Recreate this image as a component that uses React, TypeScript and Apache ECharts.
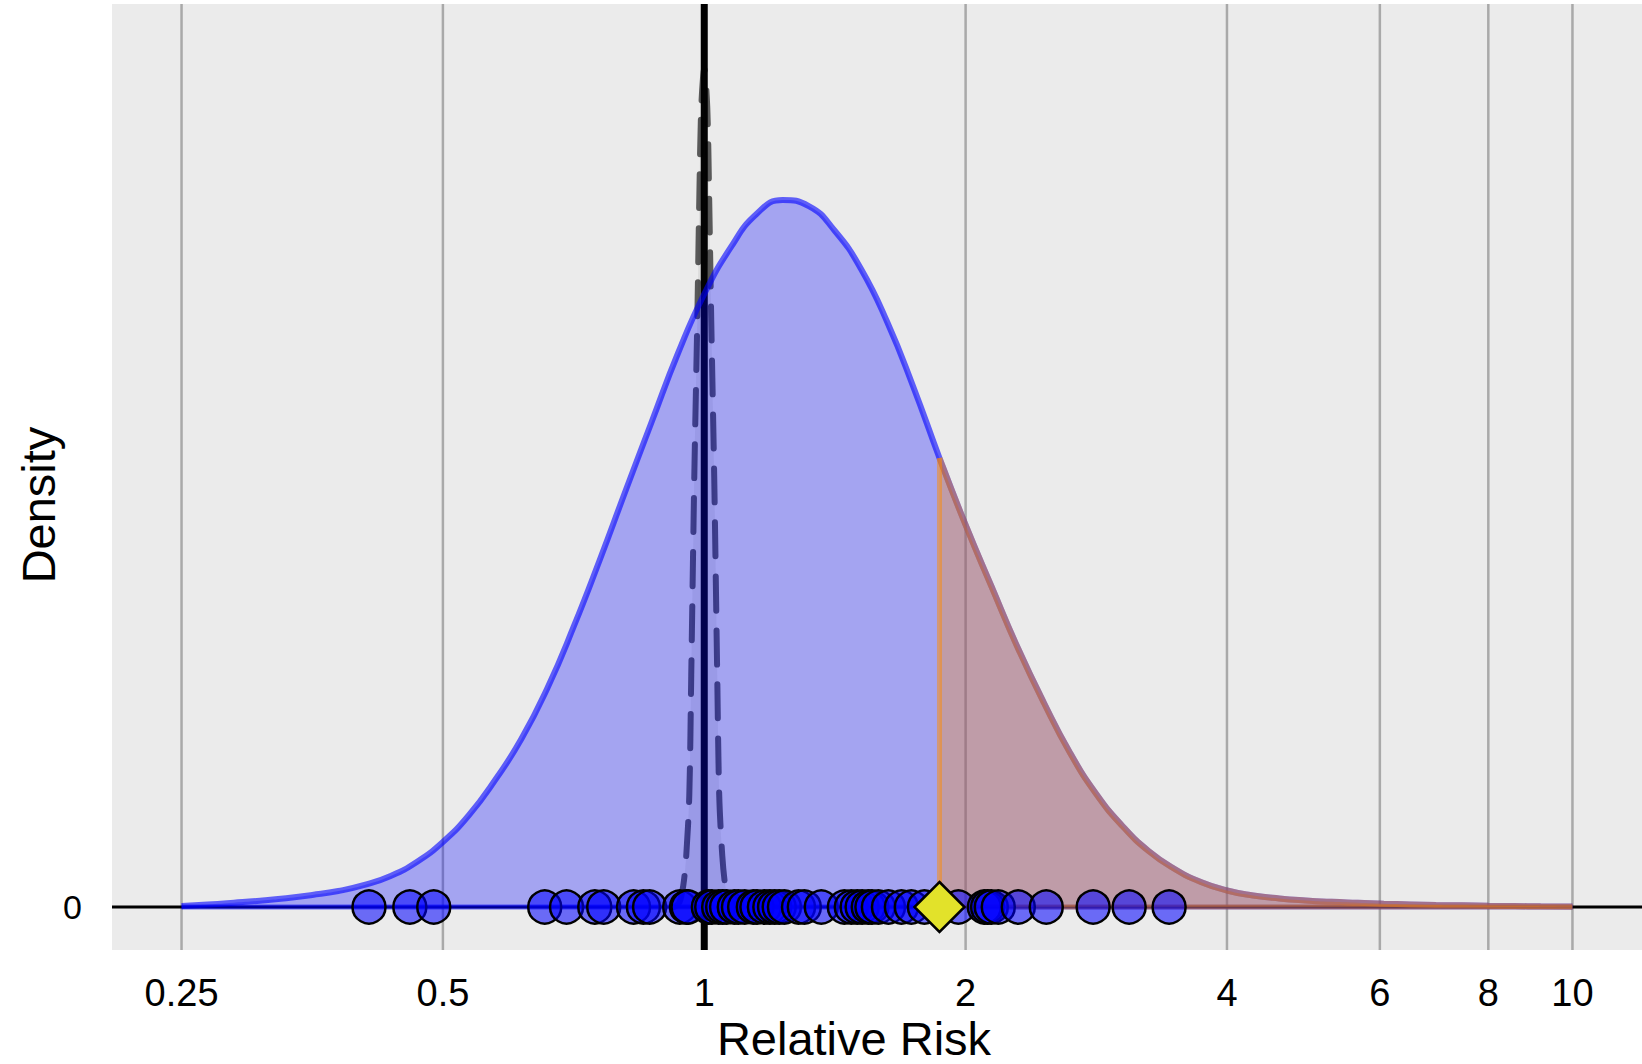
import React, { useEffect, useRef } from "react";
import * as echarts from "echarts";

// ---- data ----
const tickRR = [0.25, 0.5, 1, 2, 4, 6, 8, 10];

// observed-effect density: relative risk positions and normalised density heights
const densityRR = [
  0.25, 0.2679, 0.2872, 0.3078, 0.3299, 0.3536, 0.3789, 0.4061, 0.4353, 0.4665,
  0.5, 0.5359, 0.5743, 0.6156, 0.6598, 0.7071, 0.7579, 0.8123, 0.8706, 0.933,
  1.0, 1.0718, 1.1487, 1.2311, 1.3195, 1.4142, 1.5157, 1.6245, 1.7411, 1.8661,
  2.0, 2.1435, 2.2974, 2.4623, 2.639, 2.8284, 3.0314, 3.249, 3.4822, 3.7321,
  4.0, 4.287, 4.595, 4.925, 5.278, 5.657, 6.063, 6.498, 6.964, 7.464,
  8.0, 8.574, 9.19, 10.0,
];
const densityValues = [
  0.0012, 0.0029, 0.005, 0.0073, 0.0102, 0.014, 0.0186, 0.0256, 0.036, 0.0523,
  0.0756, 0.107, 0.1477, 0.1953, 0.2547, 0.3256, 0.4035, 0.4849, 0.5651, 0.6442,
  0.7128, 0.7663, 0.8058, 0.8221, 0.8151, 0.786, 0.7419, 0.6802, 0.6047, 0.5221,
  0.4442, 0.3721, 0.3012, 0.2372, 0.1791, 0.1314, 0.0942, 0.0651, 0.0442, 0.0291,
  0.0192, 0.0134, 0.0099, 0.0076, 0.006, 0.0049, 0.0038, 0.003, 0.0023, 0.0019,
  0.0014, 0.0011, 0.0009, 0.0006,
];

// null distribution (dashed)
const nullRR = [0.9235, 0.9359, 0.9459, 0.9534, 0.9611, 0.9661, 0.9739, 0.9816, 0.9868, 0.9921, 1.0, 1.008, 1.0133, 1.0188, 1.0268, 1.035, 1.0405, 1.0489, 1.0572, 1.0685, 1.0828];
const nullValues = [0, 0.005, 0.025, 0.06, 0.13, 0.27, 0.5, 0.68, 0.82, 0.93, 0.975, 0.93, 0.82, 0.68, 0.5, 0.27, 0.13, 0.06, 0.025, 0.005, 0];

// individual study estimates
const studyRR = [0.411, 0.458, 0.488, 0.655, 0.694, 0.748, 0.766, 0.829, 0.851, 0.865, 0.937, 0.954, 0.958, 1.011, 1.02, 1.039, 1.05, 1.061, 1.083, 1.095, 1.113, 1.139, 1.15, 1.173, 1.19, 1.205, 1.22, 1.237, 1.284, 1.304, 1.364, 1.45, 1.477, 1.5, 1.52, 1.545, 1.56, 1.587, 1.63, 1.687, 1.732, 1.793, 1.962, 2.102, 2.12, 2.141, 2.181, 2.3, 2.477, 2.805, 3.086, 3.431];

const observedRR = 1.8661;
const nullRR0 = 1;

const FONT = "'Liberation Sans', Arial, sans-serif";

export default function App() {
  const ref = useRef<HTMLDivElement>(null);

  useEffect(() => {
    if (!ref.current) return;
    const chart = echarts.init(ref.current, null, { renderer: "svg" });
    const lg = (v: number) => Math.log2(v);
    const lo = lg(tickRR[0]);
    const hi = lg(tickRR[tickRR.length - 1]);
    const pad = 0.05 * (hi - lo);
    const xMin = lo - pad;
    const xMax = hi + pad;
    const yMin = -0.05;
    const yMax = 1.05;

    const densityData = densityRR.map((r, i) => [lg(r), densityValues[i]]);
    const startIdx = densityRR.findIndex((r) => r >= observedRR - 1e-6);
    const redData = densityData.slice(startIdx);
    const nullData = nullRR.map((r, i) => [lg(r), nullValues[i]]);

    const gridSeries = tickRR.map((t) => ({
      type: "line",
      data: [
        [lg(t), yMin],
        [lg(t), yMax],
      ],
      symbol: "none",
      silent: true,
      z: 1,
      lineStyle: { color: "#a9a9a9", width: 2.5 },
    }));

    const option: any = {
      animation: false,
      backgroundColor: "#ffffff",
      grid: {
        left: 112,
        top: 4,
        width: 1530,
        height: 946,
        show: true,
        backgroundColor: "#ebebeb",
        borderWidth: 0,
        containLabel: false,
      },
      xAxis: {
        type: "value",
        min: xMin,
        max: xMax,
        axisLine: { show: false },
        axisTick: { show: false },
        splitLine: { show: false },
        axisLabel: {
          customValues: tickRR.map(lg),
          formatter: (v: number) => String(Number(Math.pow(2, v).toFixed(2))),
          color: "#000",
          fontSize: 38,
          fontFamily: FONT,
          margin: 24,
        },
      },
      yAxis: {
        type: "value",
        min: yMin,
        max: yMax,
        interval: 0.05,
        axisLine: { show: false },
        axisTick: { show: false },
        splitLine: { show: false },
        axisLabel: {
          formatter: (v: number) => (Math.abs(v) < 1e-9 ? "0" : ""),
          color: "#000",
          fontSize: 34,
          fontFamily: FONT,
          margin: 30,
        },
      },
      graphic: [
        {
          type: "text",
          x: 854,
          y: 1038,
          style: {
            text: "Relative Risk",
            fontSize: 47,
            lineHeight: 40,
            fontFamily: FONT,
            fill: "#000",
            textAlign: "center",
            textVerticalAlign: "middle",
          },
        },
        {
          type: "text",
          x: 38,
          y: 505,
          rotation: Math.PI / 2,
          style: {
            text: "Density",
            fontSize: 47,
            fontFamily: FONT,
            fill: "#000",
            textAlign: "center",
            textVerticalAlign: "middle",
          },
        },
      ],
      series: [
        ...gridSeries,
        {
          type: "line",
          data: [
            [xMin, 0],
            [xMax, 0],
          ],
          symbol: "none",
          silent: true,
          z: 2,
          lineStyle: { color: "#000", width: 3 },
        },
        {
          type: "line",
          data: [
            [lg(nullRR0), yMin],
            [lg(nullRR0), yMax],
          ],
          symbol: "none",
          silent: true,
          z: 3,
          lineStyle: { color: "#000", width: 7 },
        },
        {
          type: "line",
          data: nullData,
          smooth: 0.3,
          symbol: "none",
          silent: true,
          z: 4,
          lineStyle: { color: "rgba(0,0,0,0.62)", width: 6, type: [34, 20], cap: "round" },
          areaStyle: { color: "rgba(40,40,40,0.07)", origin: "auto", opacity: 1 },
        },
        {
          type: "line",
          data: densityData,
          smooth: 0.5,
          symbol: "none",
          silent: true,
          z: 5,
          lineStyle: { color: "rgba(0,0,255,0.6)", width: 6 },
          areaStyle: { color: "rgba(0,0,255,0.3)", origin: "auto", opacity: 1 },
        },
        {
          type: "line",
          data: [
            [lg(densityRR[0]), 0],
            [lg(densityRR[densityRR.length - 1]), 0],
          ],
          symbol: "none",
          silent: true,
          z: 5,
          lineStyle: { color: "rgba(0,0,255,0.55)", width: 5 },
        },
        {
          type: "line",
          data: redData,
          smooth: 0.5,
          symbol: "none",
          silent: true,
          z: 6,
          lineStyle: { color: "rgba(255,140,0,0.42)", width: 6 },
          areaStyle: { color: "rgba(255,140,0,0.3)", origin: "auto", opacity: 1 },
        },
        {
          type: "line",
          data: [
            [lg(observedRR), 0],
            [lg(observedRR), densityValues[startIdx]],
          ],
          symbol: "none",
          silent: true,
          z: 6,
          lineStyle: { color: "rgba(255,140,0,0.5)", width: 5 },
        },
        {
          type: "line",
          data: [
            [lg(observedRR), 0],
            [lg(densityRR[densityRR.length - 1]), 0],
          ],
          symbol: "none",
          silent: true,
          z: 6,
          lineStyle: { color: "rgba(255,140,0,0.42)", width: 5 },
        },
        {
          type: "scatter",
          data: studyRR.map((r) => [lg(r), 0]),
          symbol: "circle",
          symbolSize: 33,
          silent: true,
          z: 7,
          itemStyle: {
            color: "rgba(0,0,255,0.55)",
            borderColor: "#000",
            borderWidth: 2.5,
            opacity: 1,
          },
        },
        {
          type: "scatter",
          data: [[lg(observedRR), 0]],
          symbol: "diamond",
          symbolSize: [50, 50],
          silent: true,
          z: 8,
          itemStyle: {
            color: "#e2e22a",
            borderColor: "#000",
            borderWidth: 2.5,
            opacity: 1,
          },
        },
      ],
    };

    chart.setOption(option);
    return () => chart.dispose();
  }, []);

  return (
    <div
      ref={ref}
      style={{ position: "absolute", left: 0, top: 0, width: 1642, height: 1064 }}
    />
  );
}
